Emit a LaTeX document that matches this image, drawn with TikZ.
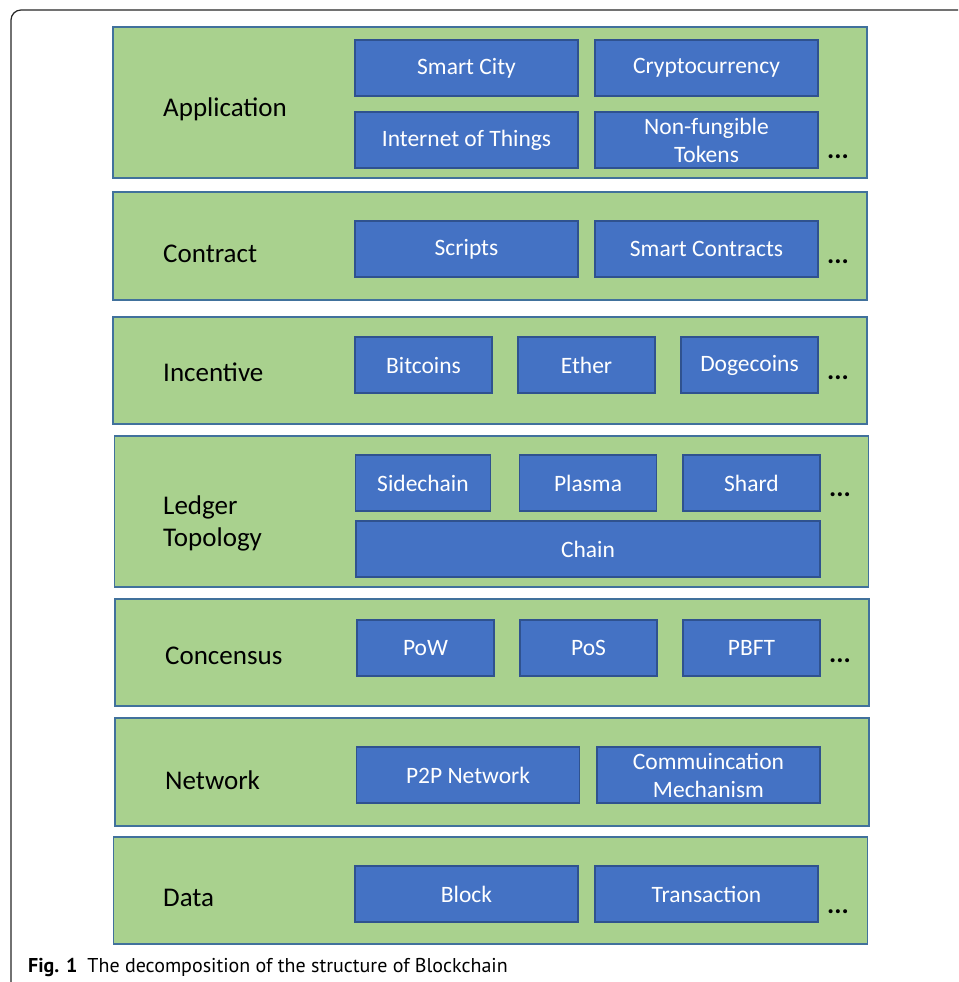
\documentclass[tikz,border=0pt]{standalone}
\usepackage{fontspec}
\setmainfont{Carlito}
\newfontfamily\captionfont{PT Sans}
\usepackage{tikz}

\definecolor{layergreen}{HTML}{A9D18E}
\definecolor{layerborder}{HTML}{41719C}
\definecolor{itemblue}{HTML}{4472C4}
\definecolor{itemborder}{HTML}{2F528F}

\begin{document}
\begin{tikzpicture}[x=1pt,y=-1pt,
	layer/.style={draw=layerborder,fill=layergreen,line width=1.5pt,minimum width=754pt,inner sep=0pt},
	item/.style={draw=itemborder,fill=itemblue,line width=1.5pt,text=white,font=\fontsize{23.5}{28}\selectfont,align=center,minimum height=56pt,inner sep=0pt},
	wide/.style={item,minimum width=223pt},
	narrow/.style={item,minimum width=137pt},
	lname/.style={anchor=west,inner sep=0pt,font=\fontsize{27}{32}\selectfont,align=left},
	more/.style={inner sep=0pt,font=\fontsize{27}{27}\selectfont\bfseries}]
	\useasboundingbox (0,0) rectangle (958,982);

	% Frame
	\draw[line width=1.2pt,black!85,rounded corners=10pt] (958,10) -- (11,10) -- (11,982);

	% Layers start here
	\node (app) at (490,102.5) [layer,minimum height=151pt] {};
	\node (con) at (490,246) [layer,minimum height=108pt] {};
	\node (inc) at (490,370.5) [layer,minimum height=107pt] {};
	\node (led) at (491.5,511.5) [layer,minimum height=151pt] {};
	\node (cns) at (492,652.5) [layer,minimum height=107pt] {};
	\node (net) at (492,772) [layer,minimum height=108pt] {};
	\node (dat) at (490.5,890.5) [layer,minimum height=107pt] {};

	% Layer names
	\node (appname) at (163,109) [lname] {Application};
	\node (conname) at (163,254) [lname] {Contract};
	\node (incname) at (163,372) [lname] {Incentive};
	\node (ledname) at (163,523) [lname] {Ledger\\Topology};
	\node (cnsname) at (165,656) [lname] {Concensus};
	\node (netname) at (165,780) [lname] {Network};
	\node (datname) at (163,898) [lname] {Data};

	% Items start here
	\node (city) at (466.5,68) [wide] {Smart City};
	\node (crypto) at (706.5,68) [wide] {Cryptocurrency};
	\node (iot) at (466.5,140) [wide] {Internet of Things};
	\node (nft) at (706.5,140) [wide] {Non-fungible\\Tokens};

	\node (scripts) at (466.5,249) [wide] {Scripts};
	\node (smart) at (706.5,249) [wide] {Smart Contracts};

	\node (btc) at (423.5,365) [narrow] {Bitcoins};
	\node (ether) at (586.5,365) [narrow] {Ether};
	\node (doge) at (749.5,365) [narrow] {Dogecoins};

	\node (side) at (423,483) [narrow,minimum width=135pt] {Sidechain};
	\node (plasma) at (588,483) [narrow] {Plasma};
	\node (shard) at (751.5,483) [narrow] {Shard};
	\node (chain) at (588,549) [item,minimum width=464pt] {Chain};

	\node (pow) at (425.5,648) [narrow] {PoW};
	\node (pos) at (588.5,648) [narrow] {PoS};
	\node (pbft) at (751.5,648) [narrow] {PBFT};

	\node (p2p) at (468,775) [wide] {P2P Network};
	\node (comm) at (708.5,775) [wide] {Commuincation\\Mechanism};

	\node (block) at (466.5,894) [wide] {Block};
	\node (trans) at (706.5,894) [wide] {Transaction};

	% Dots
	\node (appmore) at (838,157) [more] {...};
	\node (conmore) at (838,262) [more] {...};
	\node (incmore) at (838,378) [more] {...};
	\node (ledmore) at (840,495) [more] {...};
	\node (cnsmore) at (840,661) [more] {...};
	\node (datmore) at (838,912) [more] {...};

	% Caption
	\node (caption) at (28,967) [anchor=west,inner sep=0pt,font=\captionfont\fontsize{20}{24}\selectfont] {\textbf{Fig. 1}\enspace The decomposition of the structure of Blockchain};

\end{tikzpicture}
\end{document}
